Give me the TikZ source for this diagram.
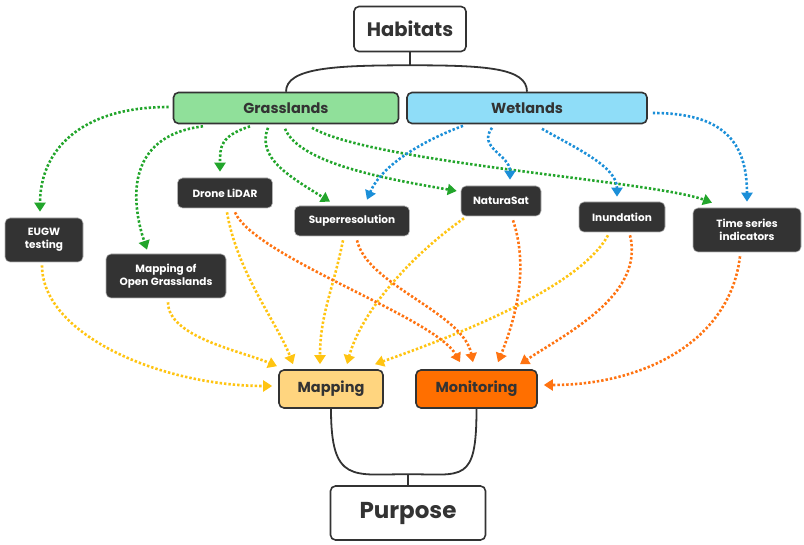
\documentclass[tikz,border=0pt]{standalone}
\usepackage{fontspec}
\setmainfont{Poppins}
\usetikzlibrary{arrows.meta,calc}
\definecolor{ink}{HTML}{333333}
\definecolor{cg}{HTML}{22A52B}
\definecolor{cb}{HTML}{1B8FD8}
\definecolor{cy}{HTML}{FFC412}
\definecolor{co}{HTML}{FF7311}
\definecolor{glfill}{HTML}{90E09A}
\definecolor{wlfill}{HTML}{8FDDF8}
\definecolor{mpfill}{HTML}{FFD57F}
\definecolor{mofill}{HTML}{FF6F00}
\begin{document}
\begin{tikzpicture}[x=1pt,y=-1pt,
  box/.style={draw=ink, line width=1.6pt, rounded corners=5pt, text=ink, inner sep=0pt, align=center},
  dk/.style={fill=ink, draw=gray!60, line width=0.6pt, rounded corners=5pt, text=white, inner sep=0pt, align=center, font=\bfseries\fontsize{10.5}{13.3}\selectfont},
  con/.style={line width=2.6pt, dash pattern=on 2.4pt off 2pt, line cap=butt, -{Triangle[width=11pt,length=9pt]}},
  gar/.style={con, color=cg},
  bar/.style={con, color=cb},
  yar/.style={con, color=cy},
  oar/.style={con, color=co},
  br/.style={draw=ink, line width=1.8pt}
]
\useasboundingbox (0,0) rectangle (804,545);

% top level
\node[box, fill=white, minimum width=112pt, minimum height=45pt, font=\bfseries\fontsize{19.5}{22}\selectfont] (hab) at (410,29) {Habitats};
\node[box, fill=glfill, minimum width=225pt, minimum height=31pt, font=\bfseries\fontsize{14.5}{16}\selectfont] (gl) at (286,108) {Grasslands};
\node[box, fill=wlfill, minimum width=240pt, minimum height=31pt, font=\bfseries\fontsize{14.5}{16}\selectfont] (wl) at (527,108) {Wetlands};

% dark nodes
\node[dk, minimum width=95pt, minimum height=30pt] (dl) at (225,193) {Drone LiDAR};
\node[dk, minimum width=115pt, minimum height=30pt] (sr) at (352,221) {Superresolution};
\node[dk, minimum width=80pt, minimum height=30pt] (ns) at (501,201) {NaturaSat};
\node[dk, minimum width=86pt, minimum height=30pt] (ind) at (622,217) {Inundation};
\node[dk, minimum width=108pt, minimum height=44pt] (ts) at (747,230) {Time series\\indicators};
\node[dk, minimum width=78pt, minimum height=44pt] (eu) at (44,240) {EUGW\\testing};
\node[dk, minimum width=120pt, minimum height=44pt] (mog) at (166,276) {Mapping of\\Open Grasslands};

% purpose nodes
\node[box, fill=mpfill, minimum width=104pt, minimum height=38pt, font=\bfseries\fontsize{14.5}{16}\selectfont] (mp) at (331,389) {Mapping};
\node[box, fill=mofill, minimum width=121pt, minimum height=38pt, font=\bfseries\fontsize{14.5}{16}\selectfont] (mo) at (476.5,389) {Monitoring};
\node[box, fill=white, minimum width=155pt, minimum height=54pt, font=\bfseries\fontsize{23}{25}\selectfont] (pu) at (408,513) {Purpose};

% brackets
\coordinate (t) at ($(hab.south)+(0,13)$);
\draw[br] (hab.south) -- (t);
\draw[br] (gl.north) .. controls +(0,-24) and +(-75,0) .. (t) .. controls +(75,0) and +(0,-24) .. (wl.north);
\coordinate (b) at ($(pu.north)+(0,-11)$);
\draw[br] (pu.north) -- (b);
\draw[br] (mp.south) .. controls +(0,75) and +(-55,0) .. (b) .. controls +(55,0) and +(0,75) .. (mo.south);

% green
\draw[gar] ($(gl.west)+(-4,-1)$) .. controls +(-90,0) and +(0,-60) .. ($(eu.north)+(-4,-6)$);
\draw[gar] ($(gl.south)+(-83,2)$) .. controls +(-80,10) and +(-15,-45) .. ($(mog.north)+(-19,-4)$);
\draw[gar] ($(gl.south)+(-36,2)$) .. controls +(-30,10) and +(0,-25) .. ($(dl.north)+(-5,-6)$);
\draw[gar] ($(gl.south)+(-18,3.5)$) .. controls +(-12,30) and +(-40,-25) .. ($(sr.north)+(-22,-4)$);
\draw[gar] ($(gl.south)+(-1,4.5)$) .. controls +(15,35) and +(-70,-12) .. ($(ns.west)+(-4,-10)$);
\draw[gar] ($(gl.south)+(26,3.5)$) .. controls +(60,35) and +(-60,-22) .. ($(ts.north)+(-35,-5)$);

% blue
\draw[bar] ($(wl.south)+(-64,1.5)$) .. controls +(-40,15) and +(15,-35) .. ($(sr.north)+(15,-6)$);
\draw[bar] ($(wl.south)+(-35,3.5)$) .. controls +(-15,20) and +(0,-25) .. ($(ns.north)+(9,-6)$);
\draw[bar] ($(wl.south)+(15,4.5)$) .. controls +(35,20) and +(0,-30) .. ($(ind.north)+(-5,-5)$);
\draw[bar] ($(wl.east)+(5,5)$) .. controls +(70,0) and +(0,-60) .. ($(ts.north)+(0,-6)$);

% yellow
\draw[yar] ($(eu.south)+(-2,3)$) .. controls +(0,70) and +(-110,0) .. ($(mp.west)+(-6,-3)$);
\draw[yar] ($(mog.south)+(2,4)$) .. controls +(0,35) and +(-35,-15) .. ($(mp.north)+(-54,-3)$);
\draw[yar] ($(dl.south)+(2,4)$) .. controls +(10,60) and +(-15,-40) .. ($(mp.north)+(-38,-5)$);
\draw[yar] ($(sr.south)+(-9,4)$) .. controls +(-10,50) and +(0,-50) .. ($(mp.north)+(-11,-5)$);
\draw[yar] ($(ns.south)+(-37,2)$) .. controls +(-50,35) and +(15,-55) .. ($(mp.north)+(16,-5)$);
\draw[yar] ($(ind.south)+(-14,3)$) .. controls +(-30,55) and +(70,-25) .. ($(mp.north)+(44,-5)$);

% orange
\draw[oar] ($(dl.south)+(10,4)$) .. controls +(20,45) and +(-25,-45) .. ($(mo.north)+(-16.5,-7)$);
\draw[oar] ($(sr.south)+(5,4)$) .. controls +(10,45) and +(-10,-50) .. ($(mo.north)+(-3.5,-7)$);
\draw[oar] ($(ns.south)+(12,4)$) .. controls +(15,45) and +(20,-50) .. ($(mo.north)+(21.5,-7)$);
\draw[oar] ($(ind.south)+(8,3)$) .. controls +(15,60) and +(45,-30) .. ($(mo.north)+(43.5,-5)$);
\draw[oar] ($(ts.south)+(-7,4)$) .. controls +(-10,85) and +(100,0) .. ($(mo.east)+(6,-4)$);
\end{tikzpicture}
\end{document}
